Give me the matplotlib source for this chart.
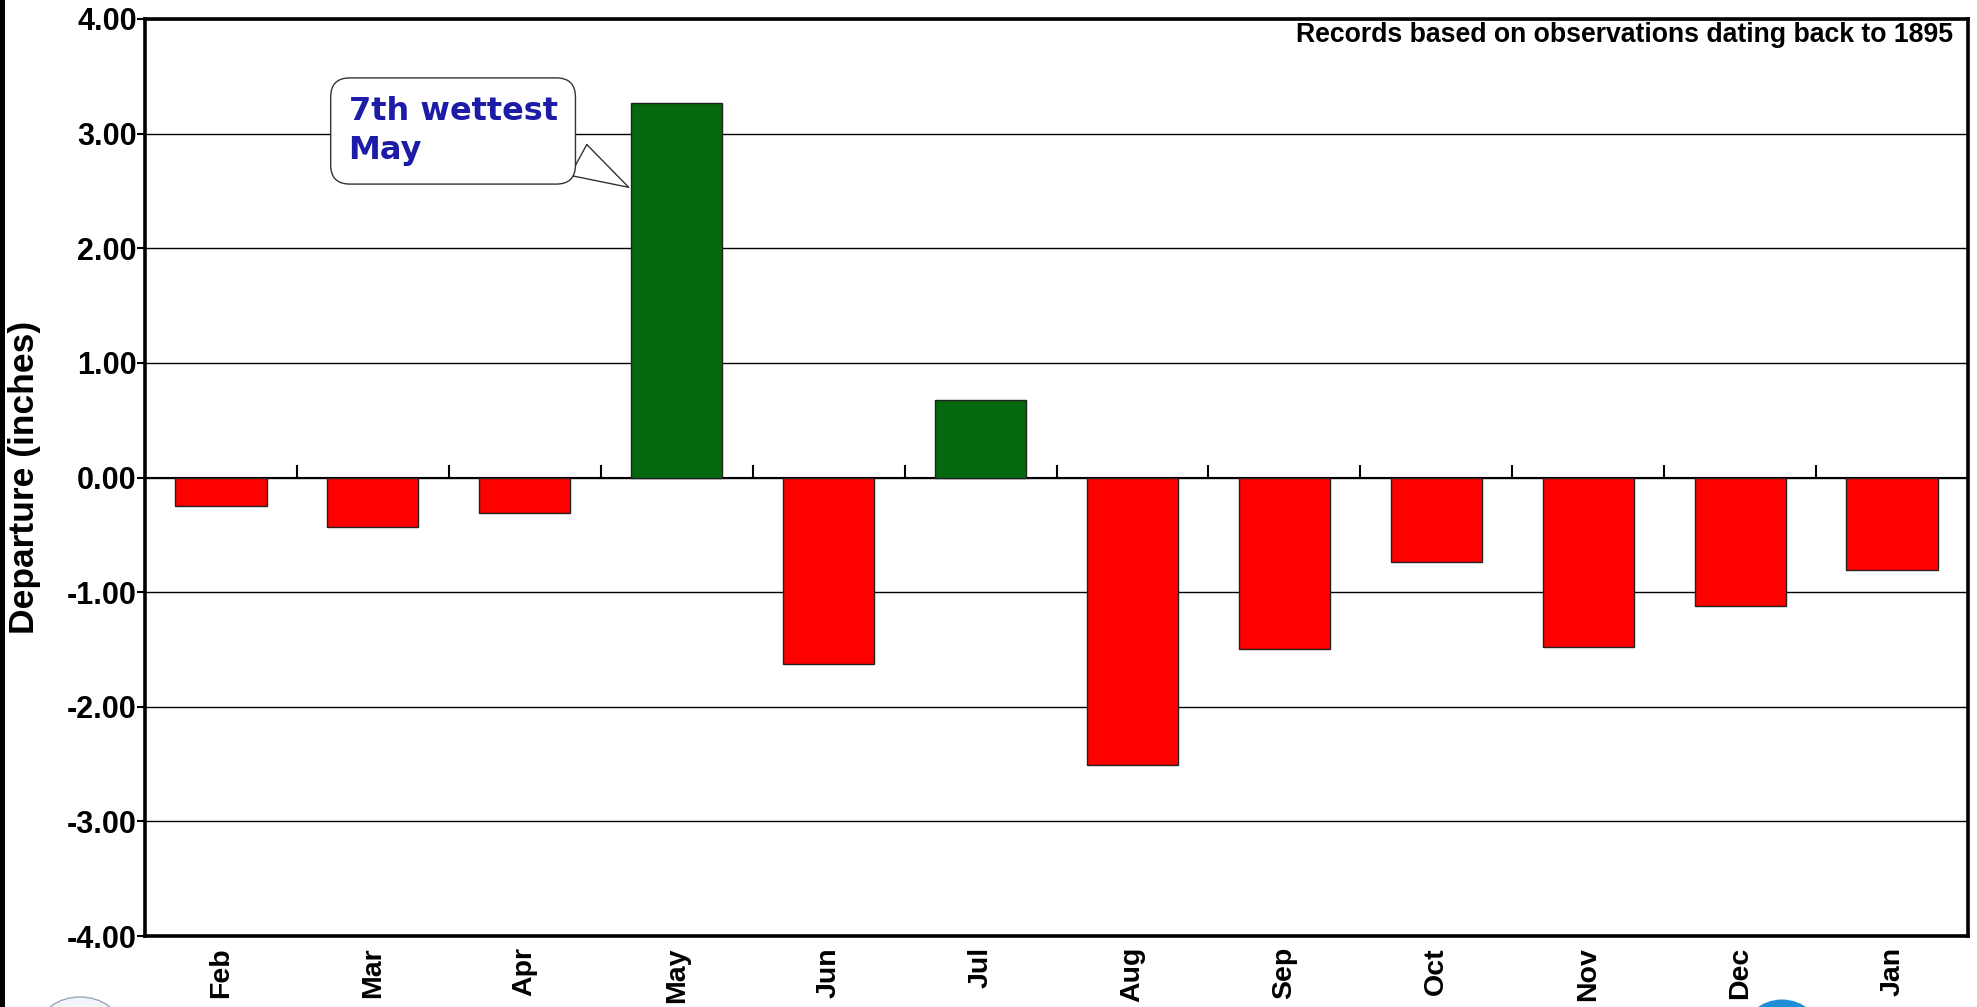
import numpy as np
import matplotlib.pyplot as plt
from matplotlib.patches import Rectangle, Ellipse

# ---- data ----
months = ["Feb", "Mar", "Apr", "May", "Jun", "Jul",
          "Aug", "Sep", "Oct", "Nov", "Dec", "Jan"]
departure = [-0.25, -0.43, -0.31, 3.27, -1.63, 0.68,
             -2.51, -1.50, -0.74, -1.48, -1.12, -0.81]
y_ticks = [-4, -3, -2, -1, 0, 1, 2, 3, 4]
note_text = "Records based on observations dating back to 1895"
callout_text = "7th wettest\nMay"
callout_month = "May"

GREEN = "#05680c"
RED = "#ff0000"
CALLOUT_BLUE = "#1c1ca6"
LBL_FONT = ["Liberation Sans", "DejaVu Sans"]

fig = plt.figure(figsize=(19.77, 10.07), dpi=100)
ax = fig.add_axes([145 / 1977, 1 - 936 / 1007, 1823 / 1977, 917 / 1007])

x = np.arange(len(months))
colors = [GREEN if v >= 0 else RED for v in departure]
ax.bar(x, departure, width=0.6, color=colors, edgecolor="#222222",
       linewidth=1.0, zorder=3)

ax.set_xlim(-0.5, len(months) - 0.5)
ax.set_ylim(-4, 4)

# y axis
ax.set_yticks(y_ticks)
ax.set_yticklabels([f"{v:.2f}" for v in y_ticks], fontsize=22,
                   fontweight="bold", family=LBL_FONT)
ax.tick_params(axis="y", direction="out", length=6, width=1.5, pad=0)
ax.yaxis.grid(True, color="black", linewidth=1.0, zorder=1)
ax.set_axisbelow(True)
ax.set_ylabel("Departure (inches)", fontsize=25.5, fontweight="bold",
              family=LBL_FONT)
ax.yaxis.set_label_coords(-0.057, 0.5)

# x labels at the bottom, no marks
ax.set_xticks(x)
ax.set_xticklabels(months, rotation=90, fontsize=20.5, fontweight="bold",
                   family=LBL_FONT)
ax.tick_params(axis="x", length=0, pad=8)

# zero line with boundary ticks
zero_ax = ax.secondary_xaxis((0 - (-4)) / 8)
zero_ax.set_xticks(np.arange(len(months) - 1) + 0.5)
zero_ax.set_xticklabels([])
zero_ax.tick_params(axis="x", direction="out", length=9, width=1.5)
zero_ax.spines["bottom"].set_linewidth(1.8)
zero_ax.spines["bottom"].set_zorder(4)

for s in ax.spines.values():
    s.set_linewidth(2.6)
    s.set_color("black")

# note at top right
ax.text(0.992, 0.997, note_text, transform=ax.transAxes, ha="right", va="top",
        fontsize=19.2, fontweight="bold", family=LBL_FONT)

# callout bubble
i = months.index(callout_month)
ax.annotate(callout_text, xy=(i - 0.3, 2.52), xytext=(0.84, 3.33),
            ha="left", va="top", fontsize=23, fontweight="bold",
            color=CALLOUT_BLUE, family=["DejaVu Sans"], zorder=6,
            linespacing=1.35,
            bbox=dict(boxstyle="round,pad=0.56,rounding_size=0.6",
                      fc="white", ec="#333333", lw=1.0),
            arrowprops=dict(arrowstyle="wedge,tail_width=1.1,shrink_factor=0.5",
                            fc="white", ec="#333333", lw=1.0,
                            relpos=(1.0, 0.25)))

# black strip on the left edge and partial logos at the bottom
fig.patches.append(Rectangle((0, 0), 5 / 1977, 1, transform=fig.transFigure,
                             facecolor="black", edgecolor="none"))
fig.patches.append(Ellipse((1782 / 1977, -30 / 1007), 80 / 1977, 75 / 1007,
                           transform=fig.transFigure, facecolor="#1e8fd6",
                           edgecolor="none"))
fig.patches.append(Ellipse((80 / 1977, -20 / 1007), 80 / 1977, 60 / 1007,
                           transform=fig.transFigure, facecolor="#f2f4f8",
                           edgecolor="#9aa6bc", linewidth=1.0))

fig.savefig("out.png", dpi=100)
